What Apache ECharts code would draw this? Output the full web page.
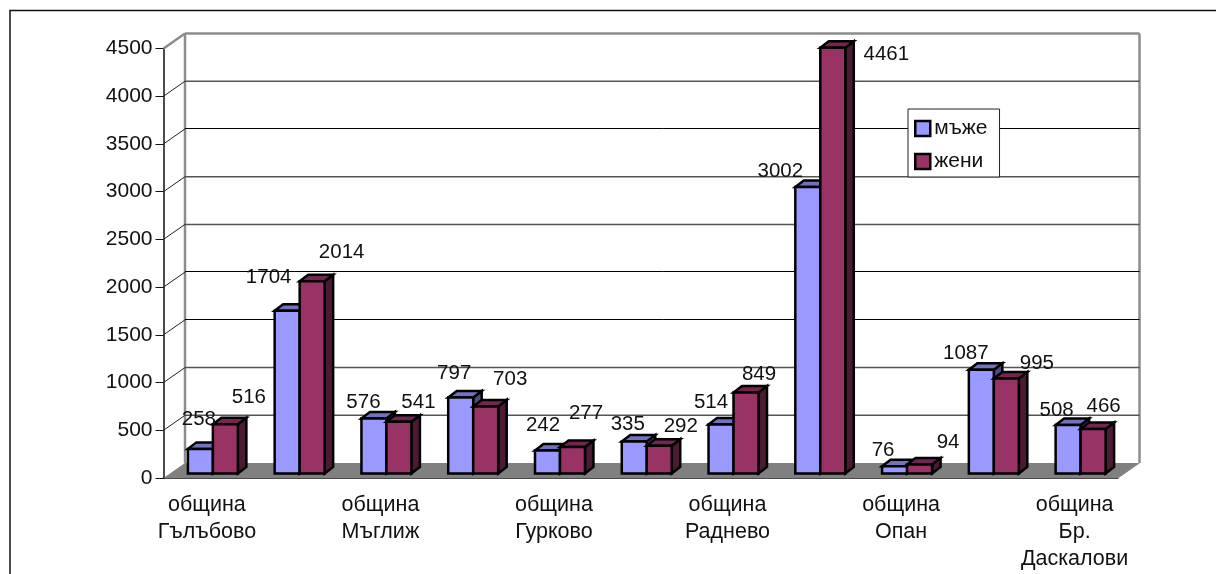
<!DOCTYPE html>
<html>
<head>
<meta charset="utf-8">
<style>
  html, body { margin: 0; padding: 0; background: #fff; }
  #chart { width: 1216px; height: 574px; }
</style>
<script src="https://cdn.jsdelivr.net/npm/echarts@6/dist/echarts.min.js"></script>
</head>
<body>
<div id="chart"></div>
<script>
  // данни
  var categories = ['община\nГълъбово', '', 'община\nМъглиж', '', 'община\nГурково', '', 'община\nРаднево', '', 'община\nОпан', '', 'община\nБр.\nДаскалови'];
  var men = [258, 1704, 576, 797, 242, 335, 514, 3002, 76, 1087, 508];
  var women = [516, 2014, 541, 703, 277, 292, 849, 4461, 94, 995, 466];
  var yTicks = [0, 500, 1000, 1500, 2000, 2500, 3000, 3500, 4000, 4500];

  // label offset from the point (category centre, value), the original labels were moved by hand
  var menLabelShift = [[-8, -34], [-25, -38], [-17, -21], [-13, -29], [-11, -30], [-13, -22], [-16.5, -27], [-34, -20], [-18, -20], [-22, -21], [-18, -19]];
  var womenLabelShift = [[42, -31], [48, -33], [38, -24], [43, -32], [32, -38], [40, -24], [31.5, -23], [72, 2], [47, -27], [49, -20], [29, -27]];

  var FONT = '"Liberation Sans", Arial, sans-serif';
  var wallDx = 21.5, wallDy = -15;      // depth of the whole box
  var barDx = 6, barDy = -4.5;          // bars stand a bit behind the front edge
  var depthDx = 8.5, depthDy = -6.5;    // depth of one bar
  var barShare = 0.288;

  // these grid lines are crisp black in the original, the rest are blurred grey
  var blackLines = [1500, 2000, 3500];

  var chart = echarts.init(document.getElementById('chart'));

  function poly(points, fill, stroke, lineWidth) {
    return {
      type: 'polygon',
      shape: { points: points },
      style: { fill: fill, stroke: stroke, lineWidth: lineWidth, lineJoin: 'miter' }
    };
  }

  function line(x1, y1, x2, y2, color, width) {
    return {
      type: 'line',
      shape: { x1: x1, y1: y1, x2: x2, y2: y2 },
      style: { stroke: color, lineWidth: width, fill: null }
    };
  }

  // walls, floor and the grid lines that run over them
  function renderBox(params, api) {
    var p0 = api.coord([0, 0]);
    var band = api.size([1, 0])[0];
    var left = p0[0] - band / 2;
    var right = left + band * categories.length;
    var t = api.value(1);
    var y = api.coord([0, t])[1];
    var top = api.coord([0, 4500])[1];
    var bottom = api.coord([0, 0])[1];
    var kids = [];
    if (params.dataIndex === 0) {
      kids.push(poly([[left, bottom], [left + wallDx, bottom + wallDy], [right + wallDx, bottom + wallDy], [right, bottom]], '#808080', null, 0));
      kids.push(line(left + wallDx, top + wallDy, left + wallDx, bottom + wallDy, '#8c8c8c', 2.5));
      kids.push(line(right + wallDx, top + wallDy, right + wallDx, bottom + wallDy, '#8c8c8c', 2.5));
      kids.push(line(right, bottom, right + wallDx, bottom + wallDy, '#8c8c8c', 1));
      kids.push(line(left, top, left + wallDx, top + wallDy, '#8c8c8c', 2.5));
      kids.push(line(left + wallDx, top + wallDy, right + wallDx, top + wallDy, '#8c8c8c', 2.5));
    } else if (y > top) {
      var yBack = y + wallDy;
      kids.push(line(left, y, left + wallDx, yBack, '#222', 1));
      if (blackLines.indexOf(t) >= 0) {
        yBack = Math.floor(yBack - 0.2) + 0.5;
        kids.push(line(left + wallDx, yBack, right + wallDx, yBack, '#000', 1));
      } else {
        kids.push(line(left + wallDx, yBack, right + wallDx, yBack, '#555', 1.5));
      }
    }
    return { type: 'group', children: kids };
  }

  function makeBarRender(slot, front, topColor, side, shifts) {
    return function (params, api) {
      var c = api.value(0), v = api.value(1);
      var band = api.size([1, 0])[0];
      var w = band * barShare;
      var pt = api.coord([c, v]);
      var base = api.coord([c, 0]);
      var x0 = pt[0] + barDx - w + slot * w;
      var x1 = x0 + w;
      var yT = pt[1] + barDy;
      var yB = base[1] + barDy;
      var shift = shifts[params.dataIndex];
      return {
        type: 'group',
        children: [
          poly([[x1, yB], [x1 + depthDx, yB + depthDy], [x1 + depthDx, yT + depthDy], [x1, yT]], side, '#000', 2.5),
          poly([[x0, yT], [x0 + depthDx, yT + depthDy], [x1 + depthDx, yT + depthDy], [x1, yT]], topColor, '#000', 2.5),
          poly([[x0, yB], [x0, yT], [x1, yT], [x1, yB]], front, '#000', 2.5),
          {
            type: 'text',
            z2: 100,
            style: {
              x: pt[0] + shift[0],
              y: pt[1] + shift[1],
              text: String(v),
              fill: '#111',
              font: '20.5px ' + FONT,
              textAlign: 'center',
              textVerticalAlign: 'middle'
            }
          }
        ]
      };
    };
  }

  chart.setOption({
    animation: false,
    backgroundColor: '#fff',
    textStyle: { fontFamily: FONT },
    grid: { left: 163.5, top: 48.5, width: 954.5, height: 429.5 },
    graphic: [{
      type: 'polyline',
      shape: { points: [[10, 574], [10, 10.5], [1216, 10.5]] },
      style: { stroke: '#111', lineWidth: 1.5, fill: null },
      silent: true
    }],
    legend: {
      orient: 'vertical',
      left: 908,
      top: 109,
      padding: [9, 12, 5, 6],
      itemGap: 12,
      itemWidth: 15,
      itemHeight: 15,
      backgroundColor: '#fff',
      borderColor: '#222',
      borderWidth: 1,
      textStyle: { fontSize: 21, color: '#111', fontFamily: FONT, padding: [0, 0, 0, -1] },
      data: [
        { name: 'мъже', icon: 'rect', itemStyle: { color: '#9999ff', borderColor: '#000', borderWidth: 2.5 } },
        { name: 'жени', icon: 'rect', itemStyle: { color: '#993366', borderColor: '#000', borderWidth: 2.5 } }
      ],
      z: 20
    },
    xAxis: {
      type: 'category',
      data: categories,
      axisLine: { lineStyle: { color: '#111', width: 1.5 } },
      axisTick: { length: 8, interval: 0, lineStyle: { color: '#111', width: 1.5 } },
      axisLabel: { interval: 0, margin: 14, fontSize: 21.5, lineHeight: 27, color: '#111', fontFamily: FONT, hideOverlap: false },
      splitLine: { show: false }
    },
    yAxis: {
      type: 'value',
      min: 0,
      max: 4500,
      interval: 500,
      axisLine: { show: true, lineStyle: { color: '#111', width: 1.5 } },
      axisTick: { show: true, length: 8, lineStyle: { color: '#111', width: 1 } },
      axisLabel: {
        margin: 11,
        fontSize: 21,
        color: '#111',
        fontFamily: FONT,
        formatter: function (v) { return String(v); }
      },
      splitLine: { show: false }
    },
    series: [
      {
        name: 'box',
        type: 'custom',
        z: 1,
        silent: true,
        renderItem: renderBox,
        data: yTicks.map(function (t) { return [0, t]; })
      },
      {
        name: 'мъже',
        type: 'custom',
        z: 3,
        itemStyle: { color: '#9999ff' },
        renderItem: makeBarRender(0, '#9999ff', '#7272bf', '#4d4d80', menLabelShift),
        data: men.map(function (v, i) { return [i, v]; })
      },
      {
        name: 'жени',
        type: 'custom',
        z: 3,
        itemStyle: { color: '#993366' },
        renderItem: makeBarRender(1, '#993366', '#732650', '#4d1a33', womenLabelShift),
        data: women.map(function (v, i) { return [i, v]; })
      }
    ]
  });
</script>
</body>
</html>
